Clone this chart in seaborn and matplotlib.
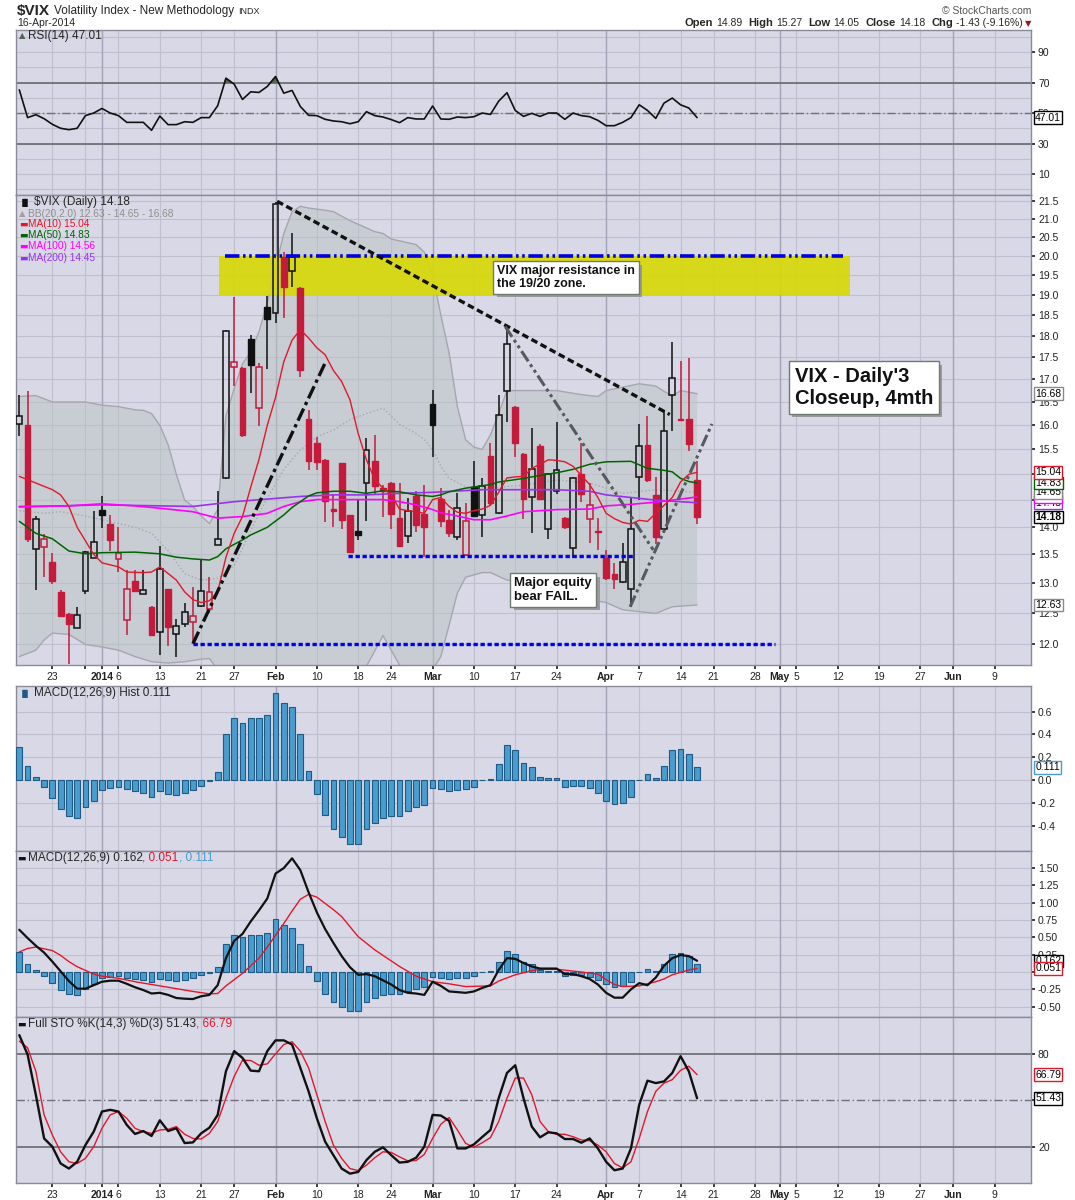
import numpy as np
import pandas as pd
import matplotlib
matplotlib.use("Agg")
import matplotlib.pyplot as plt
import matplotlib.ticker as mticker
import matplotlib.patheffects as pe
import seaborn as sns

sns.set_theme(style="white")
plt.rcParams["font.family"] = ["Liberation Sans", "DejaVu Sans"]

# trading calendar (the axis runs on past the last bar, like the original)
holidays = pd.to_datetime(["2013-12-25", "2014-01-01", "2014-01-20", "2014-02-17",
                           "2014-04-18", "2014-05-26"])
days = pd.bdate_range("2013-12-17", "2014-06-13")
days = days[~days.isin(holidays)]

tick_dates = ["2013-12-23", "2013-12-30", "2014-01-02", "2014-01-06", "2014-01-13",
              "2014-01-21", "2014-01-27", "2014-02-03", "2014-02-10", "2014-02-18",
              "2014-02-24", "2014-03-03", "2014-03-10", "2014-03-17", "2014-03-24",
              "2014-04-01", "2014-04-07", "2014-04-14", "2014-04-21", "2014-04-28",
              "2014-05-01", "2014-05-05", "2014-05-12", "2014-05-19", "2014-05-27",
              "2014-06-02", "2014-06-09"]
tick_labels = ["23", "", "2014", "6", "13", "21", "27", "Feb", "10", "18", "24", "Mar",
               "10", "17", "24", "Apr", "7", "14", "21", "28", "May", "5", "12", "19",
               "27", "Jun", "9"]
bold_labels = ["2014", "Feb", "Mar", "Apr", "May", "Jun"]

# $VIX daily candles, 17-Dec-2013 .. 16-Apr-2014
vix_open = [16.03, 16.00, 13.60, 13.63, 13.36, 12.85, 12.48, 12.25, 12.86, 13.43,
            14.32, 14.06, 13.42, 12.38, 13.03, 12.82, 12.59, 12.19, 12.89, 12.15,
            12.31, 12.35, 12.62, 12.56, 13.66, 14.93, 17.27, 17.25, 17.92, 16.37,
            18.70, 18.54, 19.97, 19.60, 19.17, 16.14, 15.64, 15.29, 14.32, 15.22,
            14.21, 13.93, 14.84, 15.27, 14.73, 14.84, 14.16, 13.83, 14.57, 14.23,
            16.46, 14.53, 14.13, 13.81, 13.49, 14.75, 14.22, 15.36, 14.26, 16.75,
            16.40, 15.41, 14.56, 15.58, 13.95, 14.68, 14.16, 13.62, 15.00, 14.14,
            13.92, 13.43, 13.16, 13.01, 12.89, 14.94, 15.60, 14.59, 13.96, 16.66,
            16.13, 16.14, 14.89]
vix_high = [16.66, 16.74, 14.20, 13.87, 13.52, 12.88, 12.50, 12.59, 13.56, 14.30,
            14.58, 14.22, 13.99, 13.23, 13.22, 13.23, 12.61, 13.65, 12.90, 12.40,
            12.67, 12.93, 13.41, 13.10, 14.67, 18.15, 18.95, 17.28, 18.02, 17.37,
            18.96, 21.48, 20.09, 20.60, 19.20, 16.33, 15.75, 15.30, 14.62, 15.23,
            14.22, 14.51, 15.73, 15.80, 14.79, 14.85, 14.83, 14.54, 14.68, 14.79,
            16.77, 14.73, 14.32, 14.64, 14.45, 15.27, 14.92, 15.63, 16.65, 18.23,
            16.42, 15.42, 15.95, 15.62, 15.02, 16.08, 14.18, 14.95, 15.64, 14.83,
            14.17, 13.57, 13.34, 13.70, 14.54, 16.02, 16.20, 14.94, 16.33, 17.86,
            17.41, 17.49, 15.27]
vix_low = [15.78, 13.72, 12.88, 13.10, 12.98, 12.44, 11.69, 12.25, 12.82, 13.43,
           13.97, 13.56, 13.19, 12.14, 12.84, 12.82, 12.13, 11.82, 11.96, 11.80,
           12.27, 12.01, 12.60, 12.49, 13.66, 14.90, 16.84, 15.75, 16.70, 15.98,
           17.24, 18.32, 18.42, 19.20, 17.06, 15.08, 15.08, 14.08, 14.00, 13.96,
           13.52, 13.76, 14.11, 14.60, 14.18, 13.96, 13.64, 13.71, 13.90, 13.45,
           15.35, 13.99, 13.82, 13.76, 13.48, 14.18, 13.82, 14.40, 14.24, 16.08,
           15.35, 14.15, 13.88, 14.50, 13.77, 14.62, 13.95, 13.44, 14.47, 13.70,
           13.57, 13.05, 12.90, 13.00, 12.60, 14.50, 14.85, 13.69, 13.88, 15.89,
           16.10, 15.46, 14.05]
vix_close = [16.19, 13.78, 14.14, 13.78, 13.03, 12.45, 12.32, 12.47, 13.55, 13.72,
             14.22, 13.75, 13.53, 12.90, 12.86, 12.88, 12.14, 13.25, 12.27, 12.28,
             12.52, 12.45, 12.87, 12.85, 13.78, 18.12, 17.40, 15.79, 17.33, 17.27,
             18.40, 21.41, 19.20, 19.97, 17.20, 15.27, 15.25, 14.49, 14.30, 14.13,
             13.54, 13.84, 15.49, 14.78, 14.67, 14.23, 13.65, 14.30, 14.04, 13.99,
             16.01, 14.11, 13.88, 14.35, 14.11, 14.20, 14.78, 14.45, 16.21, 17.82,
             15.64, 14.52, 15.10, 14.52, 15.00, 15.09, 13.99, 14.92, 14.62, 14.41,
             13.90, 13.09, 13.07, 13.36, 13.95, 15.57, 14.89, 13.82, 15.89, 17.03,
             16.11, 15.61, 14.18]

# overlays (bar number, value)
ma10_day = [0, 2, 4, 5, 6, 7, 9, 10, 12, 13, 15, 16, 17, 19, 20, 21, 22, 23, 24, 25,
            26, 27, 28, 29, 30, 31, 32, 33, 34, 35, 36, 37, 38, 39, 40, 41, 42, 43,
            44, 45, 46, 47, 48, 49, 50, 51, 52, 53, 54, 55, 56, 57, 58, 59, 60, 61,
            62, 63, 64, 65, 66, 67, 68, 69, 70, 71, 72, 73, 74, 75, 76, 77, 78, 79,
            80, 81, 82]
ma10_val = [14.96, 14.83, 14.70, 14.60, 14.38, 13.99, 13.50, 13.35, 13.28, 13.19,
            13.18, 13.19, 13.28, 13.05, 12.85, 12.72, 12.67, 12.70, 12.85, 13.45,
            13.88, 14.19, 14.75, 15.30, 16.00, 16.60, 17.40, 17.90, 18.15, 17.95,
            17.72, 17.56, 17.20, 16.95, 16.55, 15.83, 15.29, 14.90, 14.73, 14.60,
            14.33, 14.30, 14.28, 14.25, 14.51, 14.55, 14.38, 14.27, 14.25, 14.30,
            14.33, 14.40, 14.65, 14.93, 14.95, 14.96, 15.12, 15.20, 15.29, 15.28,
            15.25, 15.16, 14.98, 14.80, 14.55, 14.25, 14.15, 14.08, 14.05, 14.12,
            14.10, 14.25, 14.40, 14.55, 14.85, 15.00, 15.04]
ma50_day = [0, 1, 2, 4, 6, 8, 10, 14, 17, 19, 21, 23, 24, 25, 27, 28, 30, 32, 33, 35,
            36, 38, 40, 42, 44, 46, 48, 50, 51, 52, 54, 57, 58, 61, 63, 65, 67, 69,
            71, 74, 76, 78, 79, 80, 81, 82]
ma50_val = [14.10, 13.99, 13.88, 13.78, 13.56, 13.51, 13.53, 13.54, 13.51, 13.45,
            13.42, 13.40, 13.46, 13.60, 13.76, 13.85, 13.99, 14.22, 14.36, 14.58,
            14.64, 14.67, 14.67, 14.63, 14.68, 14.66, 14.60, 14.57, 14.60, 14.66,
            14.73, 14.80, 14.85, 14.92, 14.98, 15.03, 15.10, 15.20, 15.25, 15.26,
            15.12, 15.08, 15.05, 14.92, 14.86, 14.83]
ma100_day = [0, 6, 10, 14, 18, 21, 23, 24, 27, 30, 32, 34, 36, 44, 46, 48, 50, 51, 53,
             55, 57, 59, 61, 65, 69, 71, 74, 77, 80, 82]
ma100_val = [14.38, 14.39, 14.43, 14.39, 14.33, 14.28, 14.20, 14.16, 14.19, 14.25,
             14.38, 14.47, 14.51, 14.51, 14.47, 14.41, 14.32, 14.26, 14.20, 14.13,
             14.13, 14.20, 14.28, 14.32, 14.33, 14.39, 14.42, 14.46, 14.52, 14.56]
ma200_day = [0, 10, 17, 21, 26, 30, 34, 38, 42, 46, 50, 56, 65, 69, 71, 74, 77, 80, 82]
ma200_val = [14.37, 14.41, 14.39, 14.38, 14.47, 14.52, 14.57, 14.60, 14.60, 14.63,
             14.65, 14.70, 14.70, 14.67, 14.60, 14.55, 14.50, 14.47, 14.45]

bb_up_day = [0, 2, 4, 6, 8, 10, 12, 14, 15, 16, 17, 18, 19, 20, 21, 22, 23, 24, 25, 26,
             27, 28, 29, 30, 31, 32, 33, 34, 35, 37, 38, 40, 41, 43, 44, 45, 46, 48,
             49, 50, 51, 52, 53, 54, 55, 56, 57, 58, 59, 61, 65, 68, 70, 71, 75, 77,
             79, 80, 82]
bb_up_val = [16.62, 16.64, 16.50, 16.50, 16.50, 16.43, 16.40, 16.33, 16.32, 16.25,
             16.00, 15.60, 15.00, 14.50, 14.38, 14.20, 14.06, 14.32, 16.20, 16.80,
             17.35, 17.62, 18.10, 18.80, 19.70, 20.60, 21.20, 21.35, 21.30, 21.24,
             21.20, 20.95, 20.85, 20.65, 20.60, 20.45, 20.40, 20.30, 20.10, 19.50,
             18.50, 17.60, 16.40, 15.70, 15.55, 15.50, 15.80, 16.25, 16.75, 16.75,
             16.75, 16.66, 16.62, 16.75, 16.90, 16.85, 16.62, 16.75, 16.68]
bb_mid_day = [0, 3, 5, 8, 10, 12, 14, 16, 18, 20, 22, 24, 26, 29, 32, 34, 36, 38, 40,
              42, 44, 46, 48, 49, 50, 51, 52, 54, 57, 61, 65, 69, 73, 77, 82]
bb_mid_val = [14.30, 14.25, 14.28, 14.20, 14.13, 14.06, 13.99, 13.88, 13.57, 13.16,
              13.05, 13.08, 13.30, 14.25, 15.10, 15.49, 15.76, 15.90, 16.12, 16.25,
              16.37, 16.02, 15.83, 15.70, 15.50, 15.16, 14.92, 14.76, 14.73, 14.79,
              14.89, 14.83, 14.63, 14.70, 14.65]
bb_low_day = [0, 2, 3, 4, 6, 8, 10, 12, 14, 16, 18, 20, 22, 23, 24, 25, 27, 30, 34, 38,
              41, 42, 44, 46, 48, 50, 51, 52, 53, 54, 56, 57, 59, 65, 69, 71, 73, 77,
              79, 82]
bb_low_val = [11.80, 11.90, 12.06, 12.17, 12.15, 11.99, 11.95, 11.90, 11.80, 11.72,
              11.70, 11.72, 11.76, 11.77, 11.60, 11.20, 10.60, 10.30, 10.40, 11.00,
              11.45, 11.65, 12.13, 11.67, 11.40, 11.60, 11.80, 12.30, 12.83, 13.10,
              13.18, 13.18, 13.05, 12.98, 12.72, 12.67, 12.55, 12.49, 12.60, 12.63]

rsi14 = [65.2, 47.0, 48.9, 46.3, 42.6, 40.0, 39.1, 40.0, 48.3, 50.0, 53.0, 50.0, 48.3,
         43.9, 43.9, 43.9, 38.7, 48.0, 42.4, 42.4, 44.3, 43.9, 47.0, 47.0, 54.8, 72.8,
         68.9, 58.9, 63.9, 63.5, 67.4, 73.9, 63.0, 64.8, 54.3, 48.5, 48.3, 45.9, 44.8,
         44.3, 43.0, 44.3, 50.9, 48.3, 47.4, 45.7, 43.7, 47.0, 46.1, 46.1, 54.6, 46.1,
         45.9, 47.4, 47.0, 47.6, 50.0, 49.1, 57.8, 63.3, 51.7, 47.8, 49.8, 47.8, 50.0,
         50.0, 45.9, 50.0, 48.3, 47.6, 45.2, 41.7, 41.7, 43.9, 47.0, 55.4, 51.7, 46.5,
         56.5, 59.8, 55.4, 53.3, 47.01]
macd_hist = [0.29, 0.12, 0.03, -0.06, -0.16, -0.255, -0.32, -0.33, -0.24, -0.18, -0.09,
             -0.07, -0.06, -0.08, -0.10, -0.11, -0.15, -0.10, -0.12, -0.13, -0.11, -0.09,
             -0.05, -0.01, 0.07, 0.40, 0.54, 0.50, 0.54, 0.54, 0.57, 0.76, 0.675, 0.64,
             0.40, 0.08, -0.125, -0.31, -0.43, -0.50, -0.56, -0.56, -0.43, -0.38, -0.33,
             -0.32, -0.32, -0.27, -0.24, -0.22, -0.07, -0.08, -0.10, -0.09, -0.08, -0.06,
             0.00, 0.01, 0.14, 0.31, 0.26, 0.145, 0.11, 0.03, 0.02, 0.015, -0.06, -0.05,
             -0.05, -0.07, -0.11, -0.18, -0.21, -0.20, -0.15, 0.00, 0.05, 0.015, 0.12,
             0.26, 0.275, 0.23, 0.111]
macd_line = [0.61, 0.49, 0.38, 0.28, 0.15, 0.01, -0.13, -0.24, -0.24, -0.19, -0.14,
             -0.125, -0.125, -0.17, -0.22, -0.26, -0.31, -0.30, -0.33, -0.375, -0.385,
             -0.39, -0.35, -0.33, -0.19, 0.20, 0.45, 0.55, 0.73, 0.89, 1.06, 1.42, 1.50,
             1.64, 1.47, 1.15, 0.86, 0.62, 0.42, 0.23, 0.07, -0.04, -0.03, -0.06, -0.12,
             -0.18, -0.26, -0.30, -0.31, -0.33, -0.14, -0.20, -0.28, -0.29, -0.30, -0.28,
             -0.23, -0.19, 0.03, 0.20, 0.19, 0.13, 0.08, 0.05, 0.05, 0.05, -0.03, -0.03,
             -0.06, -0.10, -0.18, -0.30, -0.37, -0.37, -0.25, -0.16, -0.19, -0.08, 0.09,
             0.20, 0.245, 0.23, 0.162]
signal_day = [0, 1, 2, 4, 5, 6, 7, 9, 10, 12, 14, 17, 19, 21, 23, 24, 25, 27, 29, 30,
              32, 33, 34, 35, 36, 38, 39, 41, 43, 45, 46, 48, 50, 52, 54, 57, 58, 60,
              62, 63, 65, 68, 70, 71, 72, 73, 75, 77, 78, 79, 81, 82]
signal_val = [0.29, 0.34, 0.36, 0.31, 0.24, 0.15, 0.077, -0.03, -0.06, -0.09, -0.14,
              -0.20, -0.24, -0.28, -0.315, -0.31, -0.20, -0.02, 0.20, 0.36, 0.70, 0.88,
              1.05, 1.12, 1.08, 0.90, 0.80, 0.51, 0.32, 0.16, 0.08, -0.06, -0.14, -0.17,
              -0.21, -0.20, -0.13, -0.04, 0.02, 0.04, 0.04, 0.00, -0.03, -0.11, -0.18,
              -0.21, -0.20, -0.14, -0.10, -0.04, 0.03, 0.051]
sto_k = [92.5, 79.9, 53.7, 25.3, 19.9, 9.0, 5.7, 10.1, 21.0, 29.7, 42.8, 43.9, 42.8,
         34.1, 28.2, 30.1, 26.9, 37.1, 30.1, 31.9, 22.3, 22.7, 28.6, 32.3, 40.6, 69.0,
         82.1, 77.7, 69.4, 69.0, 82.1, 89.1, 89.1, 86.4, 71.2, 55.9, 38.4, 23.2, 14.4,
         5.7, 2.4, 3.5, 11.2, 16.6, 19.5, 14.4, 9.6, 10.1, 12.7, 19.9, 40.6, 40.2, 36.7,
         18.8, 18.8, 21.4, 26.2, 30.8, 51.5, 67.9, 72.9, 51.5, 33.0, 26.0, 29.3, 28.6,
         24.9, 24.9, 22.5, 25.3, 18.8, 10.1, 4.6, 5.7, 18.8, 47.2, 62.9, 61.3, 62.4,
         67.9, 78.8, 69.0, 51.43]
sto_d = [88.6, 84.3, 69.0, 40.6, 27.5, 16.6, 10.1, 9.0, 12.3, 19.9, 31.9, 40.6, 42.8,
         38.4, 31.9, 29.7, 28.6, 30.8, 31.2, 33.0, 28.0, 25.3, 24.9, 28.6, 36.3, 51.5,
         65.7, 76.2, 76.0, 72.9, 73.8, 80.3, 86.4, 88.2, 82.1, 71.2, 53.7, 36.3, 21.0,
         12.3, 5.7, 4.4, 7.9, 12.7, 16.6, 16.2, 13.3, 10.7, 10.9, 14.9, 25.3, 34.5, 38.9,
         30.8, 22.1, 19.5, 22.5, 25.8, 36.3, 51.5, 64.6, 64.6, 53.7, 36.3, 29.7, 28.0,
         28.0, 26.4, 24.3, 23.8, 21.0, 16.6, 9.0, 6.1, 10.1, 25.3, 42.8, 55.9, 61.3,
         63.5, 69.6, 72.3, 66.79]

# chartist's annotations: (start bar, end bar, price at start, price at end)
resistance_zone = (24.1, 100.5, 19.0, 20.0)
resistance_line = (24.9, 99.6, 20.0, 20.0)
support_mid = (39.8, 74.5, 13.47, 13.47)
support_low = (21.0, 91.4, 12.0, 12.0)
trend_down = (31.2, 78.7, 21.49, 16.23)
trend_up = (21.0, 37.0, 12.0, 17.37)
wedge_down = (58.8, 76.7, 18.22, 13.58)
wedge_up = (73.9, 83.8, 12.60, 16.03)
notes = [(57.8, 19.44, "VIX major resistance in\nthe 19/20 zone.", 9),
         (59.9, 12.88, "Major equity\nbear FAIL.", 9.5),
         (93.8, 16.82, "VIX - Daily'3\nCloseup, 4mth", 14.5)]

W, H = 1075, 1200
BG = "#d8d8e6"
GRID = "#bfbfcf"
MGRID = "#a4a4b8"
RED = "#c41a3b"
MA_RED = "#e3172b"
GREEN = "#006400"
MAGENTA = "#ff00ff"
PURPLE = "#9932f0"
BLUE = "#4a9ccc"

fig = plt.figure(figsize=(W / 100, H / 100), dpi=100)
fig.patch.set_facecolor("white")


def panel(top, bottom):
    ax = fig.add_axes([16 / W, 1 - bottom / H, (1031 - 16) / W, (bottom - top) / H])
    ax.set_facecolor(BG)
    for s in ax.spines.values():
        s.set_color("#8a8a98")
        s.set_linewidth(1)
    return ax


ax_rsi = panel(30, 195)
ax_px = panel(195, 665)
ax_hist = panel(686, 851)
ax_macd = panel(851, 1017)
ax_sto = panel(1017, 1183)
axes = [ax_rsi, ax_px, ax_hist, ax_macd, ax_sto]

tick_pos = [days.get_loc(pd.Timestamp(d)) for d in tick_dates]
month_pos = [p for p, lab in zip(tick_pos, tick_labels) if lab in bold_labels]
for ax in axes:
    ax.set_xlim(-0.4, 122.4)
    ax.set_xticks(tick_pos)
    ax.set_xticklabels(tick_labels)
    ax.grid(axis="x", color=GRID, lw=0.8)
    for p in month_pos:
        ax.axvline(p, color=MGRID, lw=1, zorder=0.6)
    ax.yaxis.tick_right()
    ax.tick_params(axis="y", which="both", length=3, pad=2, labelsize=7.5,
                   colors="#222222", right=True, left=False)
    ax.tick_params(axis="y", which="minor", length=0)
    ax.tick_params(axis="x", length=3, pad=2, labelsize=7.5, colors="#222222",
                   bottom=True, labelbottom=False)
    ax.set_axisbelow(True)
for ax in (ax_px, ax_sto):
    ax.tick_params(axis="x", labelbottom=True)
    for lbl in ax.get_xticklabels():
        if lbl.get_text() in bold_labels:
            lbl.set_fontweight("bold")

x = np.arange(len(vix_close))


def marker(ax, val, txt, ec, bold=False):
    ax.annotate(txt, xy=(1, val), xycoords=("axes fraction", "data"), xytext=(3, 0),
                textcoords="offset points", va="center", ha="left", fontsize=7.5,
                fontweight="bold" if bold else "normal", color="black",
                bbox=dict(boxstyle="square,pad=0.12", fc="white", ec=ec, lw=1),
                annotation_clip=False, zorder=20)


# ---------------- RSI ----------------
rsi = np.array(rsi14)
sns.lineplot(x=x, y=rsi, ax=ax_rsi, color="#111111", lw=1.2, zorder=4)
ax_rsi.fill_between(x, rsi, 70, where=rsi > 70, interpolate=True, color="#556655", zorder=3)
ax_rsi.set_ylim(-3.7, 104.4)
ax_rsi.set_yticks([10, 30, 50, 70, 90])
ax_rsi.yaxis.set_minor_locator(mticker.MultipleLocator(10))
ax_rsi.grid(axis="y", which="both", color=GRID, lw=0.8)
for lvl in (70, 30):
    ax_rsi.axhline(lvl, color="#707078", lw=1.3, zorder=2)
ax_rsi.axhline(50, color="#707078", lw=1, ls=(0, (6, 2, 1, 2)), zorder=2)
marker(ax_rsi, rsi14[-1], "47.01", "black")

# ---------------- price ----------------
ax_px.set_yscale("log")
ax_px.fill(np.r_[bb_up_day, bb_low_day[::-1]], np.r_[bb_up_val, bb_low_val[::-1]],
           color="#b8c4c0", alpha=0.5, lw=0, zorder=1)
sns.lineplot(x=bb_up_day, y=bb_up_val, ax=ax_px, color="#a6a6ae", lw=1, zorder=1.5)
sns.lineplot(x=bb_low_day, y=bb_low_val, ax=ax_px, color="#a6a6ae", lw=1, zorder=1.5)
sns.lineplot(x=bb_mid_day, y=bb_mid_val, ax=ax_px, color="#a8a8b0", lw=1, ls=":",
             zorder=1.6)

z0, z1, zlo, zhi = resistance_zone
ax_px.fill_between([z0, z1], zlo, zhi, color="#d8d80a", alpha=0.93, lw=0, zorder=2)

o, h, l, c = map(np.array, (vix_open, vix_high, vix_low, vix_close))
prev = np.r_[o[0], c[:-1]]
col = np.where(c < prev, RED, "#111111")
top = np.maximum(o, c)
bot = np.minimum(o, c)
body = np.maximum(top - bot, 0.03)
ax_px.vlines(x, top, h, colors=col, lw=1.1, zorder=3)
ax_px.vlines(x, l, bot, colors=col, lw=1.1, zorder=3)
filled = c < o
ax_px.bar(x[filled], body[filled], bottom=bot[filled], width=0.7, color=col[filled],
          edgecolor=col[filled], lw=1, zorder=3.2)
ax_px.bar(x[~filled], body[~filled], bottom=bot[~filled], width=0.7, facecolor="none",
          edgecolor=col[~filled], lw=1.1, zorder=3.2)

sns.lineplot(x=ma200_day, y=ma200_val, ax=ax_px, color=PURPLE, lw=1.2, zorder=4)
sns.lineplot(x=ma100_day, y=ma100_val, ax=ax_px, color=MAGENTA, lw=1.2, zorder=4)
sns.lineplot(x=ma50_day, y=ma50_val, ax=ax_px, color=GREEN, lw=1.1, zorder=4)
sns.lineplot(x=ma10_day, y=ma10_val, ax=ax_px, color=MA_RED, lw=1, zorder=4)


def seg(spec, **kw):
    a, b, ya, yb = spec
    ax_px.plot([a, b], [ya, yb], solid_capstyle="butt", zorder=6, **kw)


seg(resistance_line, color="#0000e0", lw=2.6, ls=(0, (4, 1, 0.7, 1, 0.7, 1)))
seg(support_mid, color="#0000ee", lw=2.4, ls=(0, (1.3, 0.8)))
seg(support_low, color="#0000ee", lw=2.4, ls=(0, (1.3, 0.8)))
seg(trend_down, color="#111111", lw=2.4, ls=(0, (2, 1.1)))
seg(trend_up, color="#111111", lw=2.4, ls=(0, (4, 1.2, 1, 1.2)))
seg(wedge_down, color="#58585f", lw=2.2, ls=(0, (4, 1.2, 1, 1.2, 1, 1.2)))
seg(wedge_up, color="#58585f", lw=2.2, ls=(0, (4, 1.2, 1, 1.2, 1, 1.2)))

shadow = [pe.withSimplePatchShadow(offset=(2.5, -2.5), shadow_rgbFace="#9a9a9a", alpha=1)]
for nx, ny, txt, fs in notes:
    t = ax_px.text(nx, ny, txt, va="center", ha="left", fontsize=fs, fontweight="bold",
                   color="#111111", linespacing=1.15,
                   bbox=dict(boxstyle="square,pad=0.3", fc="white", ec="#6f7a70", lw=1),
                   zorder=8)
    t.get_bbox_patch().set_path_effects(shadow)

ax_px.set_ylim(11.67, 21.67)
px_ticks = np.arange(12.0, 21.51, 0.5)
hidden_px = (14.5, 15.0)  # sit fully behind the value flags
ax_px.yaxis.set_major_locator(mticker.FixedLocator(px_ticks))
ax_px.yaxis.set_minor_locator(mticker.NullLocator())
ax_px.yaxis.set_major_formatter(mticker.FuncFormatter(
    lambda v, p: "" if round(v, 1) in hidden_px else f"{v:.1f}"))
ax_px.grid(axis="y", color=GRID, lw=0.8)
for val, txt, ec, bold in [(16.68, "16.68", "#8a8a8a", False),
                           (12.63, "12.63", "#8a8a8a", False),
                           (14.45, "14.45", PURPLE, False),
                           (14.56, "14.56", MAGENTA, False),
                           (14.65, "14.65", "#8a8a8a", False),
                           (14.83, "14.83", GREEN, False),
                           (15.04, "15.04", MA_RED, False),
                           (14.18, "14.18", "black", True)]:
    marker(ax_px, val, txt, ec, bold)

# ---------------- MACD histogram ----------------
ax_hist.bar(x, macd_hist, width=0.7, color=BLUE, edgecolor="#1d5a85", lw=0.8, zorder=3)
ax_hist.set_ylim(-0.623, 0.825)
ax_hist.set_yticks([-0.4, -0.2, 0.0, 0.2, 0.4, 0.6])
ax_hist.yaxis.set_major_formatter(mticker.FuncFormatter(lambda v, p: f"{v:.1f}"))
ax_hist.grid(axis="y", color=GRID, lw=0.8)
marker(ax_hist, macd_hist[-1], "0.111", BLUE)

# ---------------- MACD ----------------
ax_macd.bar(x, macd_hist, width=0.7, color=BLUE, edgecolor="#1d5a85", lw=0.8, zorder=3)
sns.lineplot(x=signal_day, y=signal_val, ax=ax_macd, color=MA_RED, lw=1, zorder=4)
sns.lineplot(x=x, y=macd_line, ax=ax_macd, color="#111111", lw=1.6, zorder=5)
ax_macd.set_ylim(-0.649, 1.746)
ax_macd.set_yticks([-0.5, -0.25, 0.0, 0.25, 0.5, 0.75, 1.0, 1.25, 1.5])
ax_macd.yaxis.set_major_formatter(mticker.FuncFormatter(
    lambda v, p: "" if abs(v) < 1e-9 else f"{v:.2f}"))
ax_macd.grid(axis="y", color=GRID, lw=0.8)
marker(ax_macd, 0.162, "0.162", "black")
marker(ax_macd, 0.051, "0.051", MA_RED)

# ---------------- Full STO ----------------
sns.lineplot(x=x, y=sto_d, ax=ax_sto, color=MA_RED, lw=1, zorder=4)
sns.lineplot(x=x, y=sto_k, ax=ax_sto, color="#111111", lw=1.7, zorder=5)
ax_sto.set_ylim(-3.7, 104.3)
ax_sto.set_yticks([20, 50, 80])
ax_sto.set_yticklabels(["20", "", "80"])
for lvl in (80, 20):
    ax_sto.axhline(lvl, color="#707078", lw=1.3, zorder=2)
ax_sto.axhline(50, color="#707078", lw=1, ls=(0, (6, 2, 1, 2)), zorder=2)
marker(ax_sto, 66.79, "66.79", MA_RED)
marker(ax_sto, 51.43, "51.43", "black")

for ax in axes:
    if ax.get_legend():
        ax.get_legend().remove()
    ax.set_xlabel("")
    ax.set_ylabel("")

# ---------------- texts ----------------
fig.canvas.draw()
rend = fig.canvas.get_renderer()


def segs(x0, y, parts, right=False):
    xx = x0
    placed = []
    for s, kw, gap in parts:
        t = fig.text(xx / W, 1 - y / H, s, va="center", ha="left", **kw)
        placed.append((t, xx))
        xx += t.get_window_extent(rend).width + gap
    if right:
        shift = xx - x0
        for t, xs in placed:
            t.set_x((xs - shift) / W)


segs(17, 11, [("$VIX", dict(fontsize=11, fontweight="bold"), 4),
              ("Volatility Index - New Methodology", dict(fontsize=8.5), 4),
              ("INDX", dict(fontsize=6.5), 0)])
fig.text(17 / W, 1 - 23.5 / H, "16-Apr-2014", fontsize=7.5, va="center")
fig.text(1031 / W, 1 - 10.5 / H, "\u00a9 StockCharts.com", fontsize=7.5, va="center",
         ha="right", color="#555555")
bk = dict(fontsize=8, fontweight="bold")
nm = dict(fontsize=7.5)
segs(1031, 23.5, [("Open", bk, 3), ("14.89", nm, 6), ("High", bk, 3), ("15.27", nm, 6),
                  ("Low", bk, 3), ("14.05", nm, 6), ("Close", bk, 3), ("14.18", nm, 6),
                  ("Chg", bk, 3), ("-1.43 (-9.16%)", nm, 2),
                  ("\u25bc", dict(fontsize=6, color="#8b2020", family=["DejaVu Sans"]), 0)],
     right=True)

leg = dict(fontsize=8.5)
segs(19, 36, [("\u25b2", dict(fontsize=6, color="#556655", family=["DejaVu Sans"]), 2),
              ("RSI(14) 47.01", leg, 0)])
segs(19, 202.5, [("\u2590\u258c", dict(fontsize=6, color="#111111",
                                      family=["DejaVu Sans"]), 2),
                 ("$VIX (Daily) 14.18", leg, 0)])
segs(19, 213.7, [("\u25b2", dict(fontsize=6, color="#a0a0a0", family=["DejaVu Sans"]), 2),
                 ("BB(20,2.0) 12.63 - 14.65 - 16.68", dict(fontsize=7.3, color="#8f8f8f"),
                  0)])
for yy, txt, colr in [(224.3, "MA(10) 15.04", MA_RED), (235.3, "MA(50) 14.83", GREEN),
                      (246.3, "MA(100) 14.56", MAGENTA), (257.7, "MA(200) 14.45", PURPLE)]:
    segs(19, yy, [("\u25ac", dict(fontsize=6.5, color=colr, family=["DejaVu Sans"]), 1),
                  (txt, dict(fontsize=7.3, color=colr), 0)])
segs(19, 693, [("\u2590\u258c", dict(fontsize=6, color="#1d5a85", family=["DejaVu Sans"]), 2),
               ("MACD(12,26,9) Hist 0.111", leg, 0)])
segs(17, 858, [("\u25ac", dict(fontsize=6.5, color="#111111", family=["DejaVu Sans"]), 2),
               ("MACD(12,26,9) 0.162", leg, 0), (", 0.051", dict(leg, color=MA_RED), 0),
               (", 0.111", dict(leg, color=BLUE), 0)])
segs(17, 1024, [("\u25ac", dict(fontsize=6.5, color="#111111", family=["DejaVu Sans"]), 2),
                ("Full STO %K(14,3) %D(3) 51.43", leg, 0),
                (", 66.79", dict(leg, color=MA_RED), 0)])

fig.savefig("out.png", dpi=100, facecolor="white")
